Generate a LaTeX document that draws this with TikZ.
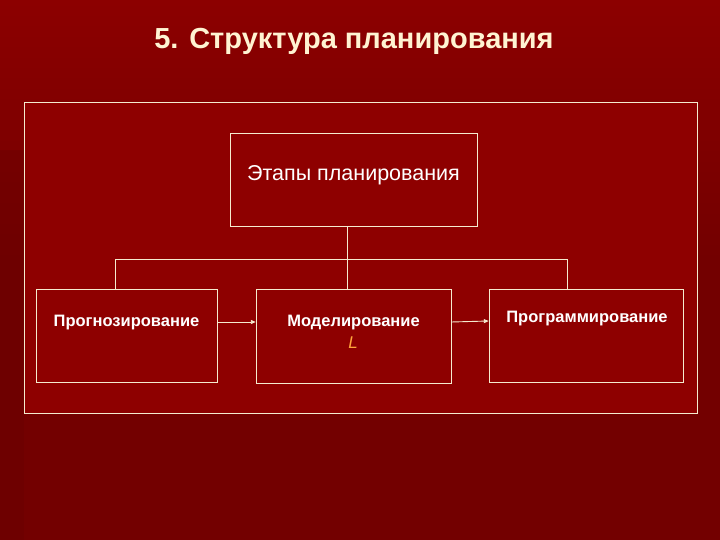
\documentclass[tikz,border=0pt]{standalone}
\usepackage{fontspec}
\setmainfont{Liberation Sans}
\usetikzlibrary{arrows.meta}
\definecolor{bgdark}{HTML}{730000}
\definecolor{bgtop}{HTML}{8C0000}
\definecolor{panel}{HTML}{8E0000}
\definecolor{cream}{HTML}{F5EBCF}
\definecolor{titlecol}{HTML}{FFF3D2}
\definecolor{accent}{HTML}{FFA43C}
\tikzset{
  stagebox/.style={draw=cream, line width=0.9pt, fill=panel},
  link/.style={draw=cream, line width=0.9pt},
  flow/.style={draw=cream, line width=0.9pt, -{Triangle[length=5pt,width=4pt]}},
  label/.style={text=white, font=\fontsize{16.5}{18}\selectfont\bfseries, inner sep=0pt},
}
\begin{document}
\begin{tikzpicture}[x=1pt,y=-1pt]
\useasboundingbox (0,0) rectangle (720,540);
\fill[bgdark] (0,0) rectangle (720,540);
\shade[top color=bgtop, bottom color=bgdark] (0,0) rectangle (720,260);
\fill[bgdark!90!black, opacity=0.4] (0,150) rectangle (24,540);
% outer frame
\draw[stagebox] (24,102) rectangle (697,413);
% boxes
\draw[stagebox] (230,133) rectangle (477,226);
\draw[stagebox] (36,289) rectangle (217,382);
\draw[stagebox] (256,289) rectangle (451,383);
\draw[stagebox] (489,289) rectangle (683,382);
\node[inner sep=0pt, minimum width=247pt, minimum height=93pt] (top) at (353.5,179.5) {};
\node[inner sep=0pt, minimum width=181pt, minimum height=93pt] (p1) at (126.5,335.5) {};
\node[inner sep=0pt, minimum width=195pt, minimum height=94pt] (p2) at (353.5,336) {};
\node[inner sep=0pt, minimum width=194pt, minimum height=93pt] (p3) at (586,335.5) {};
% texts
\node[text=white, font=\fontsize{21.5}{24}\selectfont, inner sep=0pt] (t0) at (353.5,175) {Этапы планирования};
\node[label] (t1) at (126.5,323) {Прогнозирование};
\node[label] (t2) at (353.5,323) {Моделирование};
\node[label] (t3) at (587,319) {Программирование};
\node[text=accent, font=\fontsize{17}{19}\selectfont\itshape, inner sep=0pt] (mark2) at (353,343) {L};
% title
\node[text=titlecol, font=\fontsize{29}{33}\selectfont\bfseries, inner sep=0pt] (title) at (354,41) {5. Структура планирования};
% tree connectors
\coordinate (j0) at (347,259);
\coordinate (jl) at (115,259);
\coordinate (jr) at (567,259);
\draw[link] (top.south -| j0) -- (j0);
\draw[link] (jl) -- (jr);
\draw[link] (jl) -- (p1.north -| jl);
\draw[link] (j0) -- (p2.north -| j0);
\draw[link] (jr) -- (p3.north -| jr);
% flow arrows
\draw[flow] (p1.east |- 0,322) -- (p2.west |- 0,322);
\draw[flow] (p2.east |- 0,322) -- (p3.west |- 0,321);
\end{tikzpicture}
\end{document}
